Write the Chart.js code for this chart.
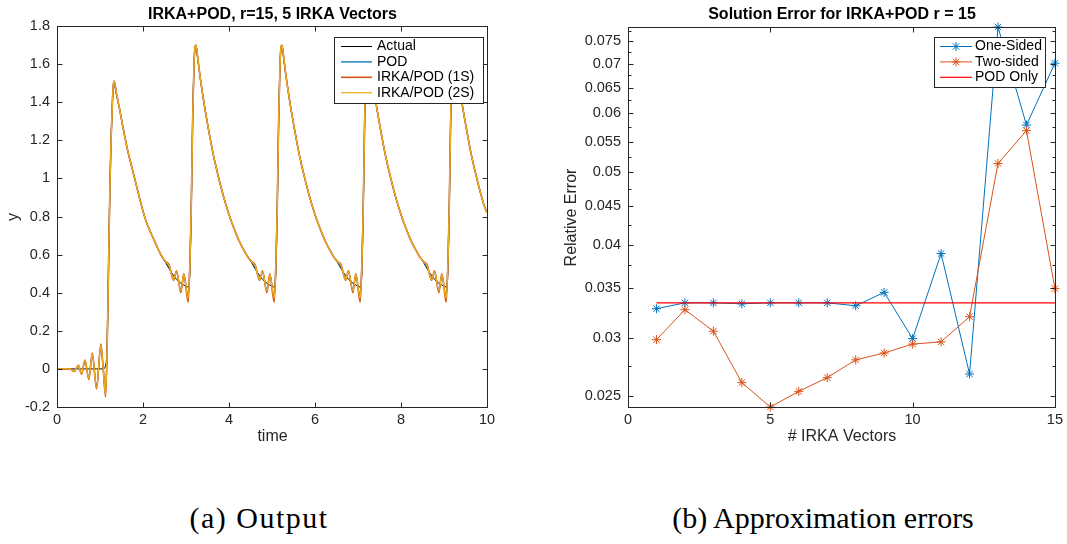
<!DOCTYPE html>
<html>
<head>
<meta charset="utf-8">
<script src="https://cdn.jsdelivr.net/npm/chart.js@4.4.1/dist/chart.umd.min.js"></script>
<style>
  html, body { margin: 0; padding: 0; background: #fff; }
  body { width: 1067px; height: 544px; position: relative; overflow: hidden; }
  canvas { position: absolute; top: 0; }
  #outputChart { left: 0; }
  #errorChart { left: 533px; }
  .caption {
    position: absolute; top: 501px; line-height: 34px;
    font-family: "Liberation Serif", "DejaVu Serif", serif; font-size: 30px;
    color: #000; transform: translateX(-50%); white-space: nowrap;
  }
</style>
</head>
<body>
<canvas id="outputChart" width="533" height="460"></canvas>
<canvas id="errorChart" width="534" height="460"></canvas>
<div class="caption" style="left:259px; letter-spacing:1.5px">(a) Output</div>
<div class="caption" style="left:823px">(b) Approximation errors</div>
<script>
const AXIS = '#262626';
const FONT = '"Liberation Sans", Arial, sans-serif';

// ---- (a) output signal ----
const time = [
  0, 0.30, 0.40, 0.50, 0.57, 0.65, 0.74, 0.82, 0.92, 1.02, 1.075, 1.13, 1.165, 1.20, 1.23, 1.26, 1.29, 1.31, 1.33,
  1.38, 1.45, 1.55, 1.65, 1.75, 1.85, 1.95, 2.05, 2.15, 2.25, 2.35, 2.45, 2.52, 2.61, 2.71, 2.78, 2.88, 2.95, 3.05,
  3.09, 3.12, 3.155, 3.185, 3.21, 3.23,
  3.28, 3.33, 3.43, 3.53, 3.63, 3.73, 3.83, 3.93, 4.03, 4.13, 4.23, 4.33, 4.43, 4.52, 4.61, 4.71, 4.78, 4.88, 4.95, 5.05,
  5.09, 5.12, 5.155, 5.185, 5.21, 5.23,
  5.28, 5.33, 5.43, 5.53, 5.63, 5.73, 5.83, 5.93, 6.03, 6.13, 6.23, 6.33, 6.43, 6.52, 6.61, 6.71, 6.78, 6.88, 6.95, 7.05,
  7.09, 7.12, 7.155, 7.185, 7.21, 7.23,
  7.28, 7.33, 7.43, 7.53, 7.63, 7.73, 7.83, 7.93, 8.03, 8.13, 8.23, 8.33, 8.43, 8.52, 8.61, 8.71, 8.78, 8.88, 8.95, 9.05,
  9.09, 9.12, 9.155, 9.185, 9.21, 9.23,
  9.28, 9.33, 9.43, 9.53, 9.63, 9.73, 9.83, 9.93, 10.0
];

const actualY = [
  0, 0, 0, 0, 0, 0, 0, 0, 0, 0, 0, 0.02, 0.12, 0.55, 0.95, 1.22, 1.40, 1.47, 1.49,
  1.44, 1.37, 1.25, 1.14, 1.05, 0.96, 0.87, 0.79, 0.73, 0.68, 0.63, 0.585, 0.56, 0.525, 0.49, 0.47, 0.45, 0.44, 0.43,
  0.50, 0.80, 1.30, 1.58, 1.68, 1.69,
  1.61, 1.53, 1.38, 1.25, 1.13, 1.03, 0.94, 0.86, 0.79, 0.73, 0.675, 0.63, 0.59, 0.56, 0.525, 0.49, 0.47, 0.45, 0.44, 0.43,
  0.50, 0.80, 1.30, 1.58, 1.68, 1.69,
  1.61, 1.53, 1.38, 1.25, 1.13, 1.03, 0.94, 0.86, 0.79, 0.73, 0.675, 0.63, 0.59, 0.56, 0.525, 0.49, 0.47, 0.45, 0.44, 0.43,
  0.50, 0.80, 1.30, 1.58, 1.68, 1.69,
  1.61, 1.53, 1.38, 1.25, 1.13, 1.03, 0.94, 0.86, 0.79, 0.73, 0.675, 0.63, 0.59, 0.56, 0.525, 0.49, 0.47, 0.45, 0.44, 0.43,
  0.50, 0.80, 1.30, 1.58, 1.68, 1.69,
  1.61, 1.53, 1.38, 1.25, 1.13, 1.03, 0.94, 0.86, 0.82
];

const podY = [
  0, 0, -0.011, 0.016, -0.025, 0.043, -0.049, 0.076, -0.096, 0.12, 0, -0.132, 0.10, 0.55, 0.95, 1.22, 1.41, 1.49, 1.51,
  1.45, 1.37, 1.25, 1.14, 1.05, 0.96, 0.87, 0.79, 0.73, 0.68, 0.63, 0.585, 0.565, 0.535, 0.475, 0.505, 0.415, 0.49, 0.38,
  0.55, 0.82, 1.31, 1.59, 1.69, 1.70,
  1.62, 1.53, 1.38, 1.25, 1.13, 1.03, 0.94, 0.86, 0.79, 0.73, 0.675, 0.63, 0.59, 0.565, 0.535, 0.475, 0.505, 0.415, 0.49, 0.38,
  0.55, 0.82, 1.31, 1.59, 1.69, 1.70,
  1.62, 1.53, 1.38, 1.25, 1.13, 1.03, 0.94, 0.86, 0.79, 0.73, 0.675, 0.63, 0.59, 0.565, 0.535, 0.475, 0.505, 0.415, 0.49, 0.38,
  0.55, 0.82, 1.31, 1.59, 1.69, 1.70,
  1.62, 1.53, 1.38, 1.25, 1.13, 1.03, 0.94, 0.86, 0.79, 0.73, 0.675, 0.63, 0.59, 0.565, 0.535, 0.475, 0.505, 0.415, 0.49, 0.38,
  0.55, 0.82, 1.31, 1.59, 1.69, 1.70,
  1.62, 1.53, 1.38, 1.25, 1.13, 1.03, 0.94, 0.86, 0.82
];

const irka1sY = [
  0, 0, -0.014, 0.019, -0.029, 0.047, -0.056, 0.083, -0.105, 0.13, 0, -0.147, 0.10, 0.55, 0.95, 1.22, 1.41, 1.49, 1.51,
  1.45, 1.37, 1.25, 1.14, 1.05, 0.96, 0.87, 0.79, 0.73, 0.68, 0.63, 0.585, 0.565, 0.545, 0.465, 0.515, 0.40, 0.50, 0.35,
  0.55, 0.82, 1.31, 1.59, 1.69, 1.70,
  1.62, 1.53, 1.38, 1.25, 1.13, 1.03, 0.94, 0.86, 0.79, 0.73, 0.675, 0.63, 0.59, 0.565, 0.545, 0.465, 0.515, 0.40, 0.50, 0.35,
  0.55, 0.82, 1.31, 1.59, 1.69, 1.70,
  1.62, 1.53, 1.38, 1.25, 1.13, 1.03, 0.94, 0.86, 0.79, 0.73, 0.675, 0.63, 0.59, 0.565, 0.545, 0.465, 0.515, 0.40, 0.50, 0.35,
  0.55, 0.82, 1.31, 1.59, 1.69, 1.70,
  1.62, 1.53, 1.38, 1.25, 1.13, 1.03, 0.94, 0.86, 0.79, 0.73, 0.675, 0.63, 0.59, 0.565, 0.545, 0.465, 0.515, 0.40, 0.50, 0.35,
  0.55, 0.82, 1.31, 1.59, 1.69, 1.70,
  1.62, 1.53, 1.38, 1.25, 1.13, 1.03, 0.94, 0.86, 0.82
];

const irka2sY = [
  0, 0, -0.012, 0.017, -0.026, 0.044, -0.05, 0.078, -0.098, 0.122, 0, -0.135, 0.10, 0.55, 0.95, 1.22, 1.41, 1.49, 1.51,
  1.45, 1.37, 1.25, 1.14, 1.05, 0.96, 0.87, 0.79, 0.73, 0.68, 0.63, 0.585, 0.565, 0.54, 0.47, 0.51, 0.41, 0.495, 0.37,
  0.55, 0.82, 1.31, 1.59, 1.69, 1.70,
  1.62, 1.53, 1.38, 1.25, 1.13, 1.03, 0.94, 0.86, 0.79, 0.73, 0.675, 0.63, 0.59, 0.565, 0.54, 0.47, 0.51, 0.41, 0.495, 0.37,
  0.55, 0.82, 1.31, 1.59, 1.69, 1.70,
  1.62, 1.53, 1.38, 1.25, 1.13, 1.03, 0.94, 0.86, 0.79, 0.73, 0.675, 0.63, 0.59, 0.565, 0.54, 0.47, 0.51, 0.41, 0.495, 0.37,
  0.55, 0.82, 1.31, 1.59, 1.69, 1.70,
  1.62, 1.53, 1.38, 1.25, 1.13, 1.03, 0.94, 0.86, 0.79, 0.73, 0.675, 0.63, 0.59, 0.565, 0.54, 0.47, 0.51, 0.41, 0.495, 0.37,
  0.55, 0.82, 1.31, 1.59, 1.69, 1.70,
  1.62, 1.53, 1.38, 1.25, 1.13, 1.03, 0.94, 0.86, 0.82
];

const timeTicks = [0, 2, 4, 6, 8, 10];
const timeTickLabels = ['0', '2', '4', '6', '8', '10'];
const outputTicks = [-0.2, 0, 0.2, 0.4, 0.6, 0.8, 1, 1.2, 1.4, 1.6, 1.8];
const outputTickLabels = ['-0.2', '0', '0.2', '0.4', '0.6', '0.8', '1', '1.2', '1.4', '1.6', '1.8'];

// ---- (b) relative errors ----
const numVectors = [1, 2, 3, 4, 5, 6, 7, 8, 9, 10, 11, 12, 13, 14, 15];
const oneSided = [0.0328, 0.0334, 0.0334, 0.0333, 0.0334, 0.0334, 0.0334, 0.0331, 0.0345, 0.0299, 0.0389, 0.0268, 0.0784, 0.0579, 0.0701];
const twoSided = [0.0298, 0.0327, 0.0306, 0.0261, 0.0242, 0.0254, 0.0265, 0.0280, 0.0286, 0.0294, 0.0296, 0.0320, 0.0514, 0.0569, 0.0349];
const podOnly = [0.0334, 0.0334, 0.0334, 0.0334, 0.0334, 0.0334, 0.0334, 0.0334, 0.0334, 0.0334, 0.0334, 0.0334, 0.0334, 0.0334, 0.0334];

const vectorTicks = [0, 5, 10, 15];
const vectorTickLabels = ['0', '5', '10', '15'];
const errorTicks = [0.025, 0.03, 0.035, 0.04, 0.045, 0.05, 0.055, 0.06, 0.065, 0.07, 0.075];
const errorTickLabels = ['0.025', '0.03', '0.035', '0.04', '0.045', '0.05', '0.055', '0.06', '0.065', '0.07', '0.075'];
const errorMinorTicks = [0.0275, 0.0325, 0.0375, 0.0425, 0.0475, 0.0525, 0.0575, 0.0625, 0.0675, 0.0725, 0.0775];

function makeXY(xs, ys) {
  return xs.map((x, i) => ({ x: x, y: ys[i] }));
}

function drawStar(ctx, x, y, r) {
  const d = r * Math.SQRT1_2;
  ctx.beginPath();
  ctx.moveTo(x - r, y); ctx.lineTo(x + r, y);
  ctx.moveTo(x, y - r); ctx.lineTo(x, y + r);
  ctx.moveTo(x - d, y - d); ctx.lineTo(x + d, y + d);
  ctx.moveTo(x - d, y + d); ctx.lineTo(x + d, y - d);
  ctx.stroke();
}

// matlab style box: inward ticks on all sides, title, axis labels, boxed legend
const matlabFrame = {
  id: 'matlabFrame',
  afterDraw(chart, args, o) {
    const ctx = chart.ctx;
    const a = chart.chartArea;
    const xs = chart.scales.x, ys = chart.scales.y;
    const L = Math.round(a.left) + 0.5, R = Math.round(a.right) + 0.5;
    const T = Math.round(a.top) + 0.5, B = Math.round(a.bottom) + 0.5;
    const seg = (x1, y1, x2, y2) => { ctx.beginPath(); ctx.moveTo(x1, y1); ctx.lineTo(x2, y2); ctx.stroke(); };

    ctx.save();
    ctx.lineWidth = 1;
    ctx.strokeStyle = AXIS;
    xs.ticks.forEach(t => {
      const p = Math.round(xs.getPixelForValue(t.value)) + 0.5;
      seg(p, B, p, B - 5); seg(p, T, p, T + 5);
    });
    ys.ticks.forEach(t => {
      const p = Math.round(ys.getPixelForValue(t.value)) + 0.5;
      seg(L, p, L + 5, p); seg(R, p, R - 5, p);
    });
    (o.minorY || []).forEach(v => {
      const p = Math.round(ys.getPixelForValue(v)) + 0.5;
      if (p < T || p > B) return;
      seg(L, p, L + 3, p); seg(R, p, R - 3, p);
    });
    ctx.strokeRect(L, T, R - L, B - T);

    const g = o.legend;
    ctx.fillStyle = '#fff';
    ctx.fillRect(g.left, g.top, g.width, g.height);
    ctx.strokeStyle = AXIS;
    ctx.lineWidth = 1;
    ctx.strokeRect(g.left + 0.5, g.top + 0.5, g.width, g.height);
    chart.data.datasets.forEach((ds, i) => {
      const y = g.firstRow + i * g.rowGap;
      ctx.strokeStyle = ds.borderColor;
      ctx.lineWidth = ds.borderWidth;
      seg(g.lineFrom, y, g.lineTo, y);
      if (ds.pointRadius > 0) {
        ctx.lineWidth = 1;
        drawStar(ctx, (g.lineFrom + g.lineTo) / 2, y, ds.pointRadius);
      }
      ctx.fillStyle = '#000';
      ctx.font = '14px ' + FONT;
      ctx.textAlign = 'left';
      ctx.textBaseline = 'middle';
      ctx.fillText(ds.label, g.textX, y);
    });

    ctx.fillStyle = '#000';
    ctx.font = 'bold 16px ' + FONT;
    ctx.textAlign = 'center';
    ctx.textBaseline = 'alphabetic';
    ctx.fillText(o.title, (L + R) / 2, 18.5);

    ctx.fillStyle = AXIS;
    ctx.font = '16px ' + FONT;
    ctx.textBaseline = 'middle';
    ctx.fillText(o.xTitle, (L + R) / 2, o.xTitleY);
    ctx.translate(o.yTitleX, (T + B) / 2);
    ctx.rotate(-Math.PI / 2);
    ctx.fillText(o.yTitle, 0, 0);
    ctx.restore();
  }
};

function axisOptions(opts) {
  return Object.assign({
    grid: { display: false, drawTicks: false },
    border: { display: false },
  }, opts);
}

const tickFont = { family: FONT, size: 14.5 };

new Chart(document.getElementById('outputChart'), {
  type: 'line',
  data: {
    datasets: [
      { label: 'Actual', data: makeXY(time, actualY), borderColor: '#000000', borderWidth: 1, order: 3 },
      { label: 'POD', data: makeXY(time, podY), borderColor: '#0072BD', borderWidth: 1.3, order: 2 },
      { label: 'IRKA/POD (1S)', data: makeXY(time, irka1sY), borderColor: '#D95319', borderWidth: 1.6, order: 1 },
      { label: 'IRKA/POD (2S)', data: makeXY(time, irka2sY), borderColor: '#EDB120', borderWidth: 1.3, order: 0 },
    ],
  },
  options: {
    responsive: false,
    animation: false,
    events: [],
    devicePixelRatio: 1,
    layout: { padding: { left: 0, top: 26, right: 46, bottom: 0 } },
    elements: {
      point: { radius: 0 },
      line: { tension: 0.4, cubicInterpolationMode: 'monotone', fill: false },
    },
    scales: {
      x: axisOptions({
        type: 'linear', min: 0, max: 10,
        afterBuildTicks: (s) => { s.ticks = timeTicks.map(v => ({ value: v })); },
        afterFit: (s) => { s.height = 53; },
        ticks: { font: tickFont, color: AXIS, padding: 4, maxRotation: 0, autoSkip: false,
          callback: (v, i) => timeTickLabels[i] },
      }),
      y: axisOptions({
        type: 'linear', min: -0.2, max: 1.8,
        afterBuildTicks: (s) => { s.ticks = outputTicks.map(v => ({ value: v })); },
        afterFit: (s) => { s.width = 57; },
        ticks: { font: tickFont, color: AXIS, padding: 7, autoSkip: false,
          callback: (v, i) => outputTickLabels[i] },
      }),
    },
    plugins: {
      legend: { display: false },
      tooltip: { enabled: false },
      matlabFrame: {
        title: 'IRKA+POD, r=15, 5 IRKA Vectors',
        xTitle: 'time', xTitleY: 437,
        yTitle: 'y', yTitleX: 14,
        legend: { left: 334, top: 37, width: 149, height: 66, firstRow: 46.5, rowGap: 15.4,
          lineFrom: 341, lineTo: 372, textX: 377 },
      },
    },
  },
  plugins: [matlabFrame],
});

new Chart(document.getElementById('errorChart'), {
  type: 'line',
  data: {
    datasets: [
      { label: 'One-Sided', data: makeXY(numVectors, oneSided), borderColor: '#0072BD', borderWidth: 1,
        pointStyle: 'star', pointRadius: 4.5, pointBorderColor: '#0072BD', pointBorderWidth: 1, order: 2, clip: false },
      { label: 'Two-sided', data: makeXY(numVectors, twoSided), borderColor: '#D95319', borderWidth: 1,
        pointStyle: 'star', pointRadius: 4.5, pointBorderColor: '#D95319', pointBorderWidth: 1, order: 1, clip: false },
      { label: 'POD Only', data: makeXY(numVectors, podOnly), borderColor: '#FF0000', borderWidth: 1.2,
        pointRadius: 0, order: 0, clip: false },
    ],
  },
  options: {
    responsive: false,
    animation: false,
    events: [],
    devicePixelRatio: 1,
    layout: { padding: { left: 0, top: 27, right: 11, bottom: 0 } },
    elements: { line: { tension: 0, fill: false } },
    scales: {
      x: axisOptions({
        type: 'linear', min: 0, max: 15,
        afterBuildTicks: (s) => { s.ticks = vectorTicks.map(v => ({ value: v })); },
        afterFit: (s) => { s.height = 53; },
        ticks: { font: tickFont, color: AXIS, padding: 4, maxRotation: 0, autoSkip: false,
          callback: (v, i) => vectorTickLabels[i] },
      }),
      y: axisOptions({
        type: 'logarithmic', min: 0.0242, max: 0.0784,
        afterBuildTicks: (s) => { s.ticks = errorTicks.map(v => ({ value: v })); },
        afterFit: (s) => { s.width = 95; },
        ticks: { font: tickFont, color: AXIS, padding: 7, autoSkip: false,
          callback: (v, i) => errorTickLabels[i] },
      }),
    },
    plugins: {
      legend: { display: false },
      tooltip: { enabled: false },
      matlabFrame: {
        title: 'Solution Error for IRKA+POD r = 15',
        xTitle: '# IRKA Vectors', xTitleY: 437,
        yTitle: 'Relative Error', yTitleX: 39,
        minorY: errorMinorTicks,
        legend: { left: 401, top: 37, width: 111, height: 50, firstRow: 46.5, rowGap: 15.4,
          lineFrom: 407, lineTo: 439, textX: 442 },
      },
    },
  },
  plugins: [matlabFrame],
});
</script>
</body>
</html>
